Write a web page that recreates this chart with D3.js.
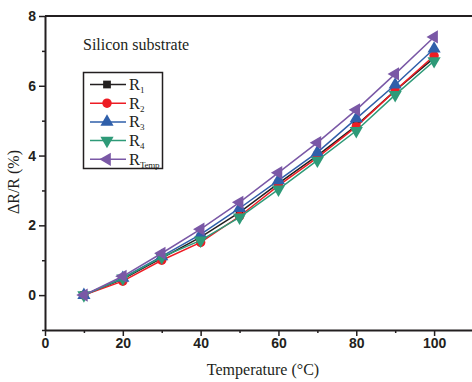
<!DOCTYPE html>
<html>
<head>
<meta charset="utf-8">
<script src="https://cdn.jsdelivr.net/npm/d3@7"></script>
<style>
  body { margin: 0; background: #fff; }
  svg { display: block; }
  .tick text { font-family: "Liberation Sans", Arial, sans-serif; font-weight: bold; font-size: 14px; fill: #231f20; }
</style>
</head>
<body>
<svg id="chart" width="472" height="382"></svg>
<script>
// data
var temps = [10, 20, 30, 40, 50, 60, 70, 80, 90, 100];
var r1 = [0, 0.46, 1.06, 1.66, 2.37, 3.20, 4.00, 4.86, 5.86, 6.80];
var r2 = [0, 0.40, 1.00, 1.51, 2.26, 3.14, 3.94, 4.83, 5.86, 6.86];
var r3 = [0, 0.49, 1.11, 1.74, 2.49, 3.29, 4.09, 5.06, 6.03, 7.06];
var r4 = [0, 0.48, 1.09, 1.57, 2.23, 3.03, 3.86, 4.71, 5.74, 6.71];
var rTemp = [0, 0.54, 1.20, 1.89, 2.66, 3.51, 4.37, 5.31, 6.34, 7.40];

var seriesNames = ["1", "2", "3", "4", "Temp"];
var seriesValues = [r1, r2, r3, r4, rTemp];
var seriesColors = ["#231f20", "#ed1c24", "#2f5faa", "#2e9a78", "#7a58a6"];
var seriesMarkers = ["square", "circle", "up", "down", "left"];

var xTicks = [0, 20, 40, 60, 80, 100];
var xMinor = [10, 30, 50, 70, 90];
var yTicks = [0, 2, 4, 6, 8];
var yMinor = [-1, 1, 3, 5, 7];

var svg = d3.select("#chart");

var x = d3.scaleLinear().domain([0, 110]).range([45, 473]);
var y = d3.scaleLinear().domain([-1, 8]).range([330, 16]);

// top frame line
svg.append("line")
    .attr("x1", 45).attr("x2", 472)
    .attr("y1", y(8)).attr("y2", y(8))
    .attr("stroke", "#231f20").attr("stroke-width", 2);

// axes
svg.append("g")
    .attr("transform", "translate(0," + y(-1) + ")")
    .call(d3.axisBottom(x).tickValues(xTicks).tickSize(6).tickPadding(2).tickSizeOuter(0));
svg.append("g")
    .attr("transform", "translate(0," + y(-1) + ")")
    .call(d3.axisBottom(x).tickValues(xMinor).tickSize(3).tickFormat("").tickSizeOuter(0))
    .select(".domain").remove();

svg.append("g")
    .attr("transform", "translate(" + x(0) + ",0)")
    .call(d3.axisLeft(y).tickValues(yTicks).tickSize(6).tickPadding(3).tickSizeOuter(0));
svg.append("g")
    .attr("transform", "translate(" + x(0) + ",0)")
    .call(d3.axisLeft(y).tickValues(yMinor).tickSize(3).tickFormat("").tickSizeOuter(0))
    .select(".domain").remove();

svg.selectAll(".domain").attr("stroke", "#231f20").attr("stroke-width", 2);
svg.selectAll(".tick line").attr("stroke", "#231f20").attr("stroke-width", 1.5);

function markerPath(kind)
{
    if (kind == "square") return d3.symbol().type(d3.symbolSquare).size(60)();
    if (kind == "circle") return d3.symbol().type(d3.symbolCircle).size(70)();
    return d3.symbol().type(d3.symbolTriangle).size(75)();
}
function markerRotate(kind)
{
    if (kind == "down") return 180;
    if (kind == "left") return -90;
    return 0;
}

var line = d3.line()
    .x(function (d, i) { return x(temps[i]); })
    .y(function (d) { return y(d); });

seriesValues.forEach(function (vals, k)
{
    var g = svg.append("g");
    g.append("path")
        .datum(vals)
        .attr("d", line)
        .attr("fill", "none")
        .attr("stroke", seriesColors[k])
        .attr("stroke-width", 1.5);
    g.selectAll("path.mark")
        .data(vals)
        .enter()
        .append("path")
        .attr("class", "mark")
        .attr("d", markerPath(seriesMarkers[k]))
        .attr("transform", function (d, i)
        {
            return "translate(" + x(temps[i]) + "," + y(d) + ") rotate(" + markerRotate(seriesMarkers[k]) + ")";
        })
        .attr("fill", seriesColors[k]);
});

var serif = "'Liberation Serif', 'Times New Roman', serif";

// annotation
svg.append("text")
    .attr("x", 83).attr("y", 50)
    .style("font-family", serif)
    .style("font-size", "16px")
    .attr("fill", "#231f20")
    .text("Silicon substrate");

// legend
var legend = svg.append("g");
legend.append("rect")
    .attr("x", 83.5).attr("y", 72.5)
    .attr("width", 79).attr("height", 96)
    .attr("fill", "#fff")
    .attr("stroke", "#231f20").attr("stroke-width", 1.5);

seriesNames.forEach(function (name, k)
{
    var ly = 84.5 + k * 18.7;
    legend.append("line")
        .attr("x1", 90).attr("x2", 126)
        .attr("y1", ly).attr("y2", ly)
        .attr("stroke", seriesColors[k]).attr("stroke-width", 1.5);
    legend.append("path")
        .attr("d", markerPath(seriesMarkers[k]))
        .attr("transform", "translate(107," + ly + ") rotate(" + markerRotate(seriesMarkers[k]) + ")")
        .attr("fill", seriesColors[k]);
    var t = legend.append("text")
        .attr("x", 129).attr("y", ly + 5.5)
        .style("font-family", serif)
        .style("font-size", "16.5px")
        .attr("fill", "#231f20");
    t.append("tspan").text("R");
    t.append("tspan").attr("dy", 3).style("font-size", "9px").style("letter-spacing", "-0.3px").text(name);
});

// axis titles
svg.append("text")
    .attr("x", 263).attr("y", 375)
    .attr("text-anchor", "middle")
    .style("font-family", serif)
    .style("font-size", "16px")
    .attr("fill", "#231f20")
    .text("Temperature (°C)");

svg.append("text")
    .attr("transform", "translate(19,182) rotate(-90)")
    .attr("text-anchor", "middle")
    .style("font-family", serif)
    .style("font-size", "16px")
    .attr("fill", "#231f20")
    .text("ΔR/R (%)");
</script>
</body>
</html>
